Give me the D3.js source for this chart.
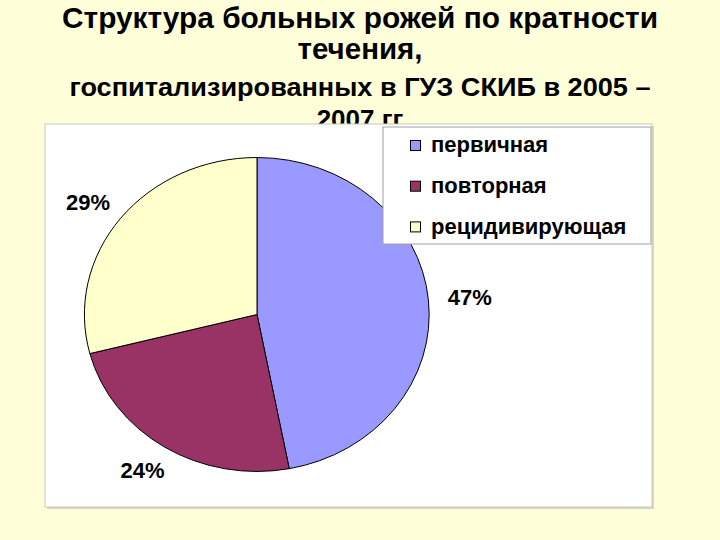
<!DOCTYPE html>
<html>
<head>
<meta charset="utf-8">
<script src="https://cdn.jsdelivr.net/npm/d3@7"></script>
<style>
  html, body { margin: 0; padding: 0; background: #FFFFDA; }
  svg { display: block; font-family: "Liberation Sans", Arial, sans-serif; }
</style>
</head>
<body>
<svg id="chart" width="720" height="540"></svg>
<script>
const categories = ["первичная", "повторная", "рецидивирующая"];
const values = [47, 24, 29];
const colors = ["#9999FF", "#993366", "#FFFFCC"];
const titleLines = [
    "Структура больных рожей по кратности",
    "течения,",
    "госпитализированных в ГУЗ СКИБ в 2005 –",
    "2007 гг"
];

const svg = d3.select("#chart");

// title (last line sits partly under the chart box)
const titleSizes = [30, 30, 26, 26];
const titleY = [28, 59, 96, 128];
const titleLen = [596, 125, 581, null];
titleLines.forEach(function(t, i) {
    const txt = svg.append("text")
        .attr("x", 360)
        .attr("y", titleY[i])
        .attr("text-anchor", "middle")
        .attr("font-size", titleSizes[i])
        .attr("font-weight", "bold")
        .attr("fill", "#000")
        .text(t);
    if (titleLen[i]) txt.attr("textLength", titleLen[i]).attr("lengthAdjust", "spacingAndGlyphs");
});

// chart area box
svg.append("rect")
    .attr("x", 47).attr("y", 126)
    .attr("width", 607).attr("height", 383)
    .attr("fill", "#D8D8C0");
svg.append("rect")
    .attr("x", 45).attr("y", 124)
    .attr("width", 607).attr("height", 383)
    .attr("fill", "#fff")
    .attr("stroke", "#C8C8C0")
    .attr("stroke-width", 1);

// pie, drawn in a unit circle and stretched to the ellipse
const cx = 257, cy = 314.5, rx = 172.5, ry = 157;
const pie = d3.pie().sort(null).value(d => d)(values);
const arc = d3.arc().innerRadius(0).outerRadius(1);
const g = svg.append("g")
    .attr("transform", "translate(" + cx + "," + cy + ") scale(" + rx + "," + ry + ")");
g.selectAll("path")
    .data(pie)
    .join("path")
    .attr("d", arc)
    .attr("fill", (d, i) => colors[i])
    .attr("stroke", "#000")
    .attr("stroke-width", 1)
    .attr("vector-effect", "non-scaling-stroke");

// percent labels: anchor just outside the rim, pushed out by half the label box
const labelArc = d3.arc().innerRadius(1.1).outerRadius(1.1);
svg.append("g").selectAll("text")
    .data(pie)
    .join("text")
    .attr("x", function(d) {
        const a = (d.startAngle + d.endAngle) / 2;
        return cx + labelArc.centroid(d)[0] * rx + Math.sin(a) * 24;
    })
    .attr("y", function(d) {
        const a = (d.startAngle + d.endAngle) / 2;
        return cy + labelArc.centroid(d)[1] * ry - Math.cos(a) * 11;
    })
    .attr("text-anchor", "middle")
    .attr("dy", "0.36em")
    .attr("font-size", 22)
    .attr("font-weight", "bold")
    .text(d => d.value + "%");

// legend
const lg = svg.append("g").attr("transform", "translate(383,127)");
lg.append("rect")
    .attr("width", 268).attr("height", 117)
    .attr("fill", "#fff")
    .attr("stroke", "#A0A0A0");
const item = lg.selectAll("g.item")
    .data(categories)
    .join("g")
    .attr("class", "item")
    .attr("transform", (d, i) => "translate(0," + (18.5 + i * 40.7) + ")");
item.append("rect")
    .attr("x", 27.5).attr("y", -5)
    .attr("width", 10).attr("height", 10)
    .attr("fill", (d, i) => colors[i])
    .attr("stroke", "#000")
    .attr("stroke-width", 1);
item.append("text")
    .attr("x", 48)
    .attr("dy", "0.3em")
    .attr("font-size", 22)
    .attr("font-weight", "bold")
    .text(d => d);
</script>
</body>
</html>
